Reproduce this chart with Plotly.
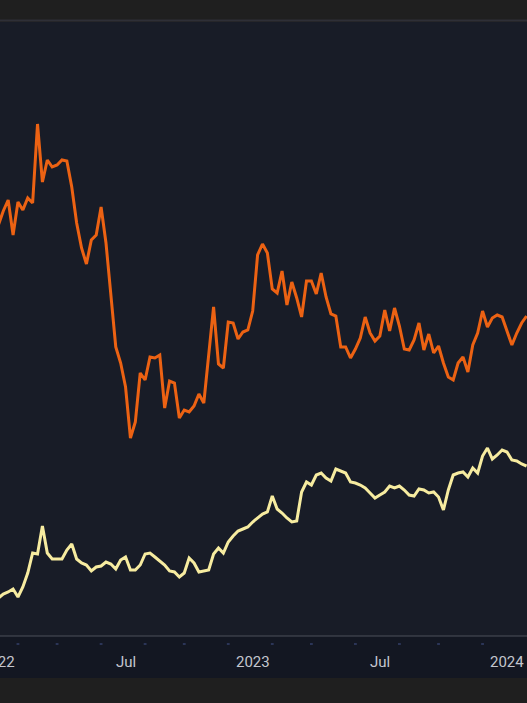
import pandas as pd
import plotly.graph_objects as go

# Weekly closes (arbitrary index units), starting week of 2022-01-03
start_date = "2022-01-03"
orange_values = [
    95.0, 97.8, 100.0, 93.0, 99.6, 98.0, 100.4, 99.4, 115.2, 103.6,
    108.0, 106.6, 107.0, 108.0, 107.8, 102.6, 95.4, 90.4, 87.2, 92.0,
    93.0, 98.6, 91.4, 80.6, 70.6, 67.4, 62.6, 52.4, 55.6, 65.4,
    64.0, 68.6, 68.4, 69.0, 58.4, 63.8, 63.4, 56.4, 58.0, 57.6,
    58.8, 61.2, 59.4, 69.0, 78.6, 67.2, 66.4, 75.6, 75.4, 72.2,
    73.6, 74.0, 77.8, 89.0, 91.2, 89.4, 82.2, 81.4, 85.8, 79.0,
    83.6, 80.4, 76.6, 83.8, 83.8, 81.2, 85.4, 80.6, 77.2, 76.8,
    70.6, 70.6, 68.4, 70.2, 72.4, 76.6, 73.4, 71.8, 72.8, 78.0,
    73.8, 78.4, 74.8, 70.2, 70.0, 72.0, 75.4, 70.0, 73.2, 69.4,
    70.8, 67.4, 64.6, 64.0, 67.4, 68.6, 65.6, 71.0, 73.4, 77.8,
    74.6, 76.4, 77.0, 76.6, 73.6, 71.0, 73.4, 75.4, 76.8,
]
yellow_values = [
    20.4, 21.2, 21.6, 22.2, 20.6, 22.6, 25.4, 29.4, 29.2, 34.8,
    29.4, 28.2, 28.2, 28.2, 30.0, 31.2, 28.2, 27.4, 27.0, 25.8,
    26.6, 26.8, 27.6, 27.2, 26.2, 28.0, 28.6, 26.0, 26.0, 27.0,
    29.2, 29.4, 28.6, 27.8, 27.0, 25.8, 25.6, 24.6, 25.4, 28.4,
    27.4, 25.6, 25.8, 26.0, 29.2, 30.4, 29.4, 31.6, 32.8, 33.8,
    34.2, 34.6, 35.6, 36.4, 37.2, 37.6, 40.8, 38.2, 37.4, 36.4,
    35.6, 35.8, 41.6, 43.6, 43.0, 45.0, 45.4, 44.4, 43.8, 46.2,
    45.8, 45.4, 43.6, 43.4, 43.0, 42.4, 41.4, 40.4, 41.0, 41.6,
    42.8, 42.4, 42.8, 42.0, 41.0, 40.8, 42.2, 42.0, 41.4, 41.6,
    40.6, 38.0, 42.0, 45.0, 45.4, 45.6, 44.6, 46.4, 45.4, 48.8,
    50.4, 48.2, 49.0, 50.0, 49.6, 48.0, 47.8, 47.2, 46.8,
]

# labels sit on the first weekly bar of each period
tick_dates = ["2022-01-03", "2022-07-04", "2023-01-02", "2023-07-03", "2024-01-01"]
tick_labels = ["2022", "Jul", "2023", "Jul", "2024"]

event_dates = [
    "2022-01-31", "2022-03-28", "2022-05-30", "2022-08-01", "2022-09-26", "2022-11-28",
    "2023-01-30", "2023-03-27", "2023-05-29", "2023-07-31", "2023-09-25", "2023-11-27",
]

x_view = ["2022-01-05 07:00", "2024-01-29 15:00"]
y_view = [12.8, 135.6]

orange_dates = pd.date_range(start_date, periods=len(orange_values), freq="7D")
yellow_dates = pd.date_range(start_date, periods=len(yellow_values), freq="7D")

fig = go.Figure()
fig.add_trace(go.Scatter(x=orange_dates, y=orange_values, mode="lines",
                         line=dict(color="#ec6213", width=3), hoverinfo="skip"))
fig.add_trace(go.Scatter(x=yellow_dates, y=yellow_values, mode="lines",
                         line=dict(color="#f7eca0", width=3), hoverinfo="skip"))

H_PLOT = 614.0
shapes = [
    # axis label band
    dict(type="rect", xref="paper", yref="paper", x0=0, x1=1,
         y0=-42 / H_PLOT, y1=0, fillcolor="#131722", line=dict(width=0), layer="below"),
    # top border
    dict(type="line", xref="paper", yref="paper", x0=0, x1=1,
         y0=1 + 1.5 / H_PLOT, y1=1 + 1.5 / H_PLOT, line=dict(color="#2e2f37", width=2)),
    # axis line
    dict(type="line", xref="paper", yref="paper", x0=0, x1=1,
         y0=0, y1=0, line=dict(color="#4c505b", width=1)),
]
for d in event_dates:
    ts = pd.Timestamp(d)
    shapes.append(dict(type="line", xref="x", yref="paper",
                       x0=ts - pd.Timedelta(days=2), x1=ts + pd.Timedelta(days=2),
                       y0=-8 / H_PLOT, y1=-8 / H_PLOT,
                       line=dict(color="#34406a", width=1.5)))

# time-axis labels placed through the axis' own date span (so a label
# partly outside the view, like the leading "2022", is still drawn and clipped)
v0, v1 = pd.Timestamp(x_view[0]), pd.Timestamp(x_view[1])
annotations = [
    dict(x=(pd.Timestamp(d) - v0) / (v1 - v0), y=-26 / H_PLOT,
         xref="paper", yref="paper", text=t, showarrow=False,
         xanchor="center", yanchor="middle",
         font=dict(family="Roboto", size=15, color="#c3c6ce"))
    for d, t in zip(tick_dates, tick_labels)
]

fig.update_layout(
    width=527, height=703,
    margin=dict(l=0, r=0, t=22, b=67, pad=0),
    paper_bgcolor="#1f1f1f",
    plot_bgcolor="#181c27",
    showlegend=False,
    shapes=shapes,
    annotations=annotations,
    xaxis=dict(range=x_view, showticklabels=False,
               showgrid=False, zeroline=False, showline=False, ticks=""),
    yaxis=dict(range=y_view, visible=False, showgrid=False, zeroline=False),
)

fig.write_html(
    "out.html",
    config={"displayModeBar": False},
    post_script="document.body.style.margin='0';document.body.style.background='#1f1f1f';",
)
